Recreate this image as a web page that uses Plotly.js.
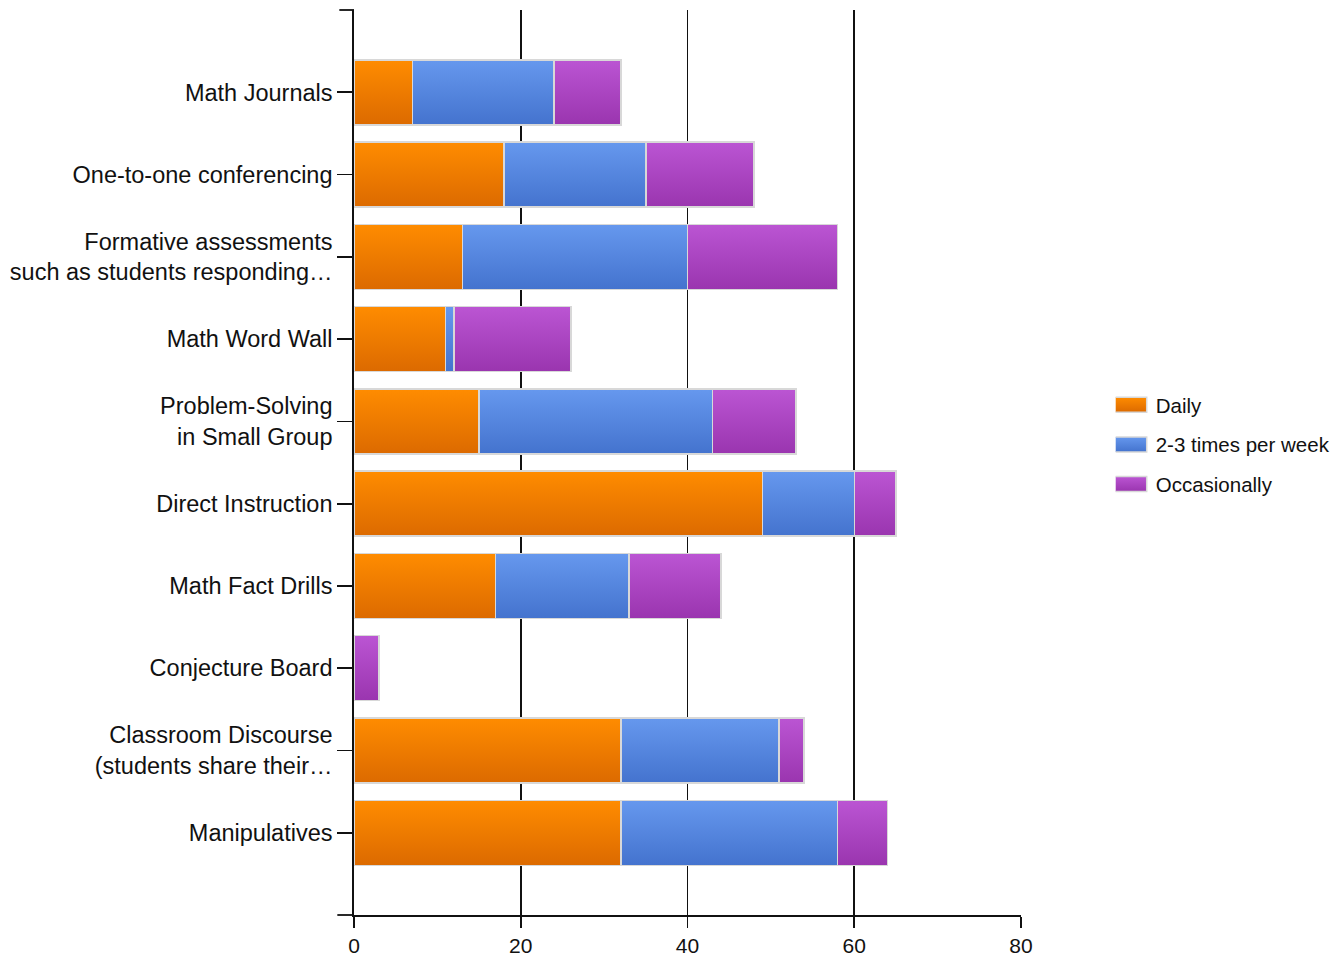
<!DOCTYPE html>
<html>
<head>
<meta charset="utf-8">
<script src="https://cdn.plot.ly/plotly-3.0.1.min.js"></script>
<style>html,body{margin:0;padding:0;background:#fff;}#chart{width:1335px;height:956px;}</style>
</head>
<body>
<div id="chart"></div>
<script>
const categories = [
  "Math Journals",
  "One-to-one conferencing",
  "Formative assessments<br>such as students responding…",
  "Math Word Wall",
  "Problem-Solving<br>in Small Group",
  "Direct Instruction",
  "Math Fact Drills",
  "Conjecture Board",
  "Classroom Discourse<br>(students share their…",
  "Manipulatives"
];
const daily        = [7, 18, 13, 11, 15, 49, 17, 0, 32, 32];
const twoThreeWeek = [17, 17, 27, 1, 28, 11, 16, 0, 19, 26];
const occasionally = [8, 13, 18, 14, 10, 5, 11, 3, 3, 6];
const seriesNames  = ["Daily", "2-3 times per week", "Occasionally"];
const seriesColors = ["#F07C00", "#5585DC", "#A944C0"];
const gradTop      = ["#FF8C00", "#6698EE", "#BB55D3"];
const gradBottom   = ["#DC6A00", "#4473CE", "#9A35AF"];
const xTicks = [0, 20, 40, 60, 80];

const FAM = "Liberation Sans, Arial, sans-serif";
const seriesData = [daily, twoThreeWeek, occasionally];
const traces = seriesData.map((vals, i) => ({
  type: "bar",
  orientation: "h",
  name: seriesNames[i],
  legendgroup: "g" + i,
  y: categories,
  x: vals,
  marker: {color: seriesColors[i], line: {color: "#d8d8d8", width: 1.5}},
  hoverinfo: "x+name"
}));

const layout = {
  width: 1335, height: 956,
  margin: {l: 354, r: 314, t: 10, b: 41, pad: 0, autoexpand: false},
  barmode: "stack",
  bargap: 0.21,
  paper_bgcolor: "#fff",
  plot_bgcolor: "#fff",
  font: {family: FAM, size: 23.5, color: "#111"},
  showlegend: true,
  legend: {
    x: 1.142, xanchor: "left", y: 0.52, yanchor: "middle",
    font: {family: FAM, size: 20.5, color: "#111"},
    bgcolor: "rgba(0,0,0,0)",
    traceorder: "grouped",
    tracegroupgap: 10
  },
  xaxis: {
    range: [0, 80],
    tickvals: xTicks,
    ticktext: xTicks.map(String),
    showgrid: true, gridcolor: "#111", gridwidth: 1.8,
    zeroline: false,
    showline: true, linecolor: "#111", linewidth: 1.8,
    ticks: "outside", ticklen: 11, tickwidth: 1.8, tickcolor: "#111",
    tickfont: {family: FAM, size: 21, color: "#111"},
    automargin: false,
    fixedrange: true
  },
  yaxis: {
    type: "category",
    categoryorder: "array",
    categoryarray: categories,
    range: [9.999, -1],
    showgrid: false,
    zeroline: false,
    showline: true, linecolor: "#111", linewidth: 1.8,
    ticks: "outside", ticklen: 15, tickwidth: 1.8, tickcolor: "#111",
    tickfont: {family: FAM, size: 23.5, color: "#111"},
    automargin: false,
    fixedrange: true
  },
  shapes: [
    {type: "line", xref: "paper", yref: "paper", x0: -0.022, x1: 0, y0: 1, y1: 1, line: {color: "#111", width: 1.8}},
    {type: "line", xref: "paper", yref: "paper", x0: -0.025, x1: 0, y0: 0, y1: 0, line: {color: "#111", width: 1.8}}
  ]
};

function addGradients(gd) {
  const svg = gd.querySelector("svg.main-svg");
  const NS = "http://www.w3.org/2000/svg";
  let defs = svg.querySelector("defs");
  if (!defs) { defs = document.createElementNS(NS, "defs"); svg.insertBefore(defs, svg.firstChild); }
  seriesNames.forEach((n, i) => {
    const lg = document.createElementNS(NS, "linearGradient");
    lg.setAttribute("id", "barGrad" + i);
    lg.setAttribute("x1", "0"); lg.setAttribute("y1", "0");
    lg.setAttribute("x2", "0"); lg.setAttribute("y2", "1");
    [[0, gradTop[i]], [1, gradBottom[i]]].forEach(([o, c]) => {
      const s = document.createElementNS(NS, "stop");
      s.setAttribute("offset", o); s.setAttribute("stop-color", c);
      lg.appendChild(s);
    });
    defs.appendChild(lg);
  });
  gd.querySelectorAll(".barlayer .trace.bars").forEach((t, i) => {
    t.querySelectorAll("path").forEach(p => { p.style.fill = "url(#barGrad" + i + ")"; });
  });
  gd.querySelectorAll(".legend .traces").forEach((t, i) => {
    t.querySelectorAll(".legendpoints path").forEach(p => {
      p.setAttribute("d", "M-28,-7.5h39v15h-39Z");
      p.style.fill = "url(#barGrad" + i + ")";
      p.style.stroke = "#d8d8d8";
      p.style.strokeWidth = "1.5px";
    });
  });
}

Plotly.newPlot("chart", traces, layout, {displayModeBar: false, staticPlot: true}).then(addGradients);
</script>
</body>
</html>
